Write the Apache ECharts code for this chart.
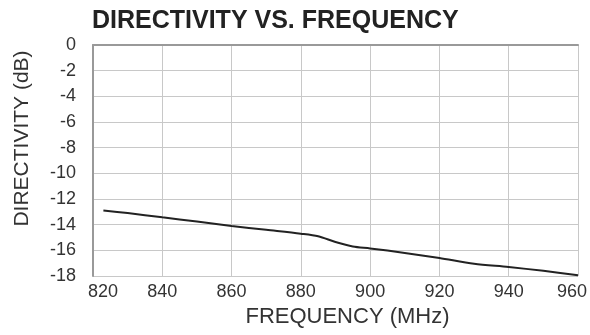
<!DOCTYPE html>
<html>
<head>
<meta charset="utf-8">
<script src="https://cdn.jsdelivr.net/npm/echarts@6/dist/echarts.min.js"></script>
<style>html,body{margin:0;padding:0;background:#fff;}#c{width:590px;height:335px;}</style>
</head>
<body>
<div id="c"></div>
<script>
var titleText = 'DIRECTIVITY VS. FREQUENCY';
var xName = 'FREQUENCY (MHz)';
var yName = 'DIRECTIVITY (dB)';
var freq = [823, 830, 840, 850, 860, 870, 880, 885, 890, 895, 900, 910, 920, 930, 940, 950, 960];
var directivity = [-12.9, -13.1, -13.43, -13.75, -14.1, -14.4, -14.7, -14.9, -15.35, -15.7, -15.85, -16.2, -16.6, -17.05, -17.3, -17.6, -17.95];
var xMin = 820, xMax = 960, xStep = 20;
var yMin = -18, yMax = 0, yStep = 2;

var chart = echarts.init(document.getElementById('c'), null, {renderer: 'canvas'});
var font = 'Liberation Sans, Arial, sans-serif';
chart.setOption({
  animation: false,
  backgroundColor: '#fff',
  title: {
    text: titleText, left: 87, top: 4,
    textStyle: {fontFamily: font, fontSize: 25, fontWeight: 'bold', color: '#222'}
  },
  grid: {left: 93, right: 12, top: 45, bottom: 59},
  xAxis: {
    type: 'value', min: xMin, max: xMax, interval: xStep,
    name: xName, nameLocation: 'middle', nameGap: 30,
    nameTextStyle: {fontFamily: font, fontSize: 22, color: '#333', padding: [0, 0, 0, 24]},
    axisLine: {show: true, lineStyle: {color: '#999', width: 2}},
    axisTick: {show: false},
    splitLine: {show: true, lineStyle: {color: '#c8c8c8', width: 1}},
    axisLabel: {
      fontFamily: font, fontSize: 18, color: '#333', margin: 7,
      formatter: function (v) {
        if (v === xMin) return '{l|' + v + '}';
        if (v === xMax) return '{r|' + v + '}';
        return String(v);
      },
      rich: {
        l: {fontFamily: font, fontSize: 18, color: '#333', padding: [0, 0, 0, 20]},
        r: {fontFamily: font, fontSize: 18, color: '#333', padding: [0, 12, 0, 0]}
      }
    }
  },
  yAxis: {
    type: 'value', min: yMin, max: yMax, interval: yStep,
    name: yName, nameLocation: 'middle', nameGap: 60,
    nameTextStyle: {fontFamily: font, fontSize: 21, color: '#333', padding: [0, 0, 0, 44]},
    axisLine: {show: true, lineStyle: {color: '#999', width: 2}},
    axisTick: {show: false},
    splitLine: {show: true, lineStyle: {color: '#c8c8c8', width: 1}},
    axisLabel: {fontFamily: font, fontSize: 18, color: '#333', margin: 17}
  },
  series: [{
    type: 'line',
    data: freq.map(function (f, i) { return [f, directivity[i]]; }),
    smooth: 0.3,
    showSymbol: false,
    lineStyle: {color: '#222', width: 2}
  }]
});
</script>
</body>
</html>
